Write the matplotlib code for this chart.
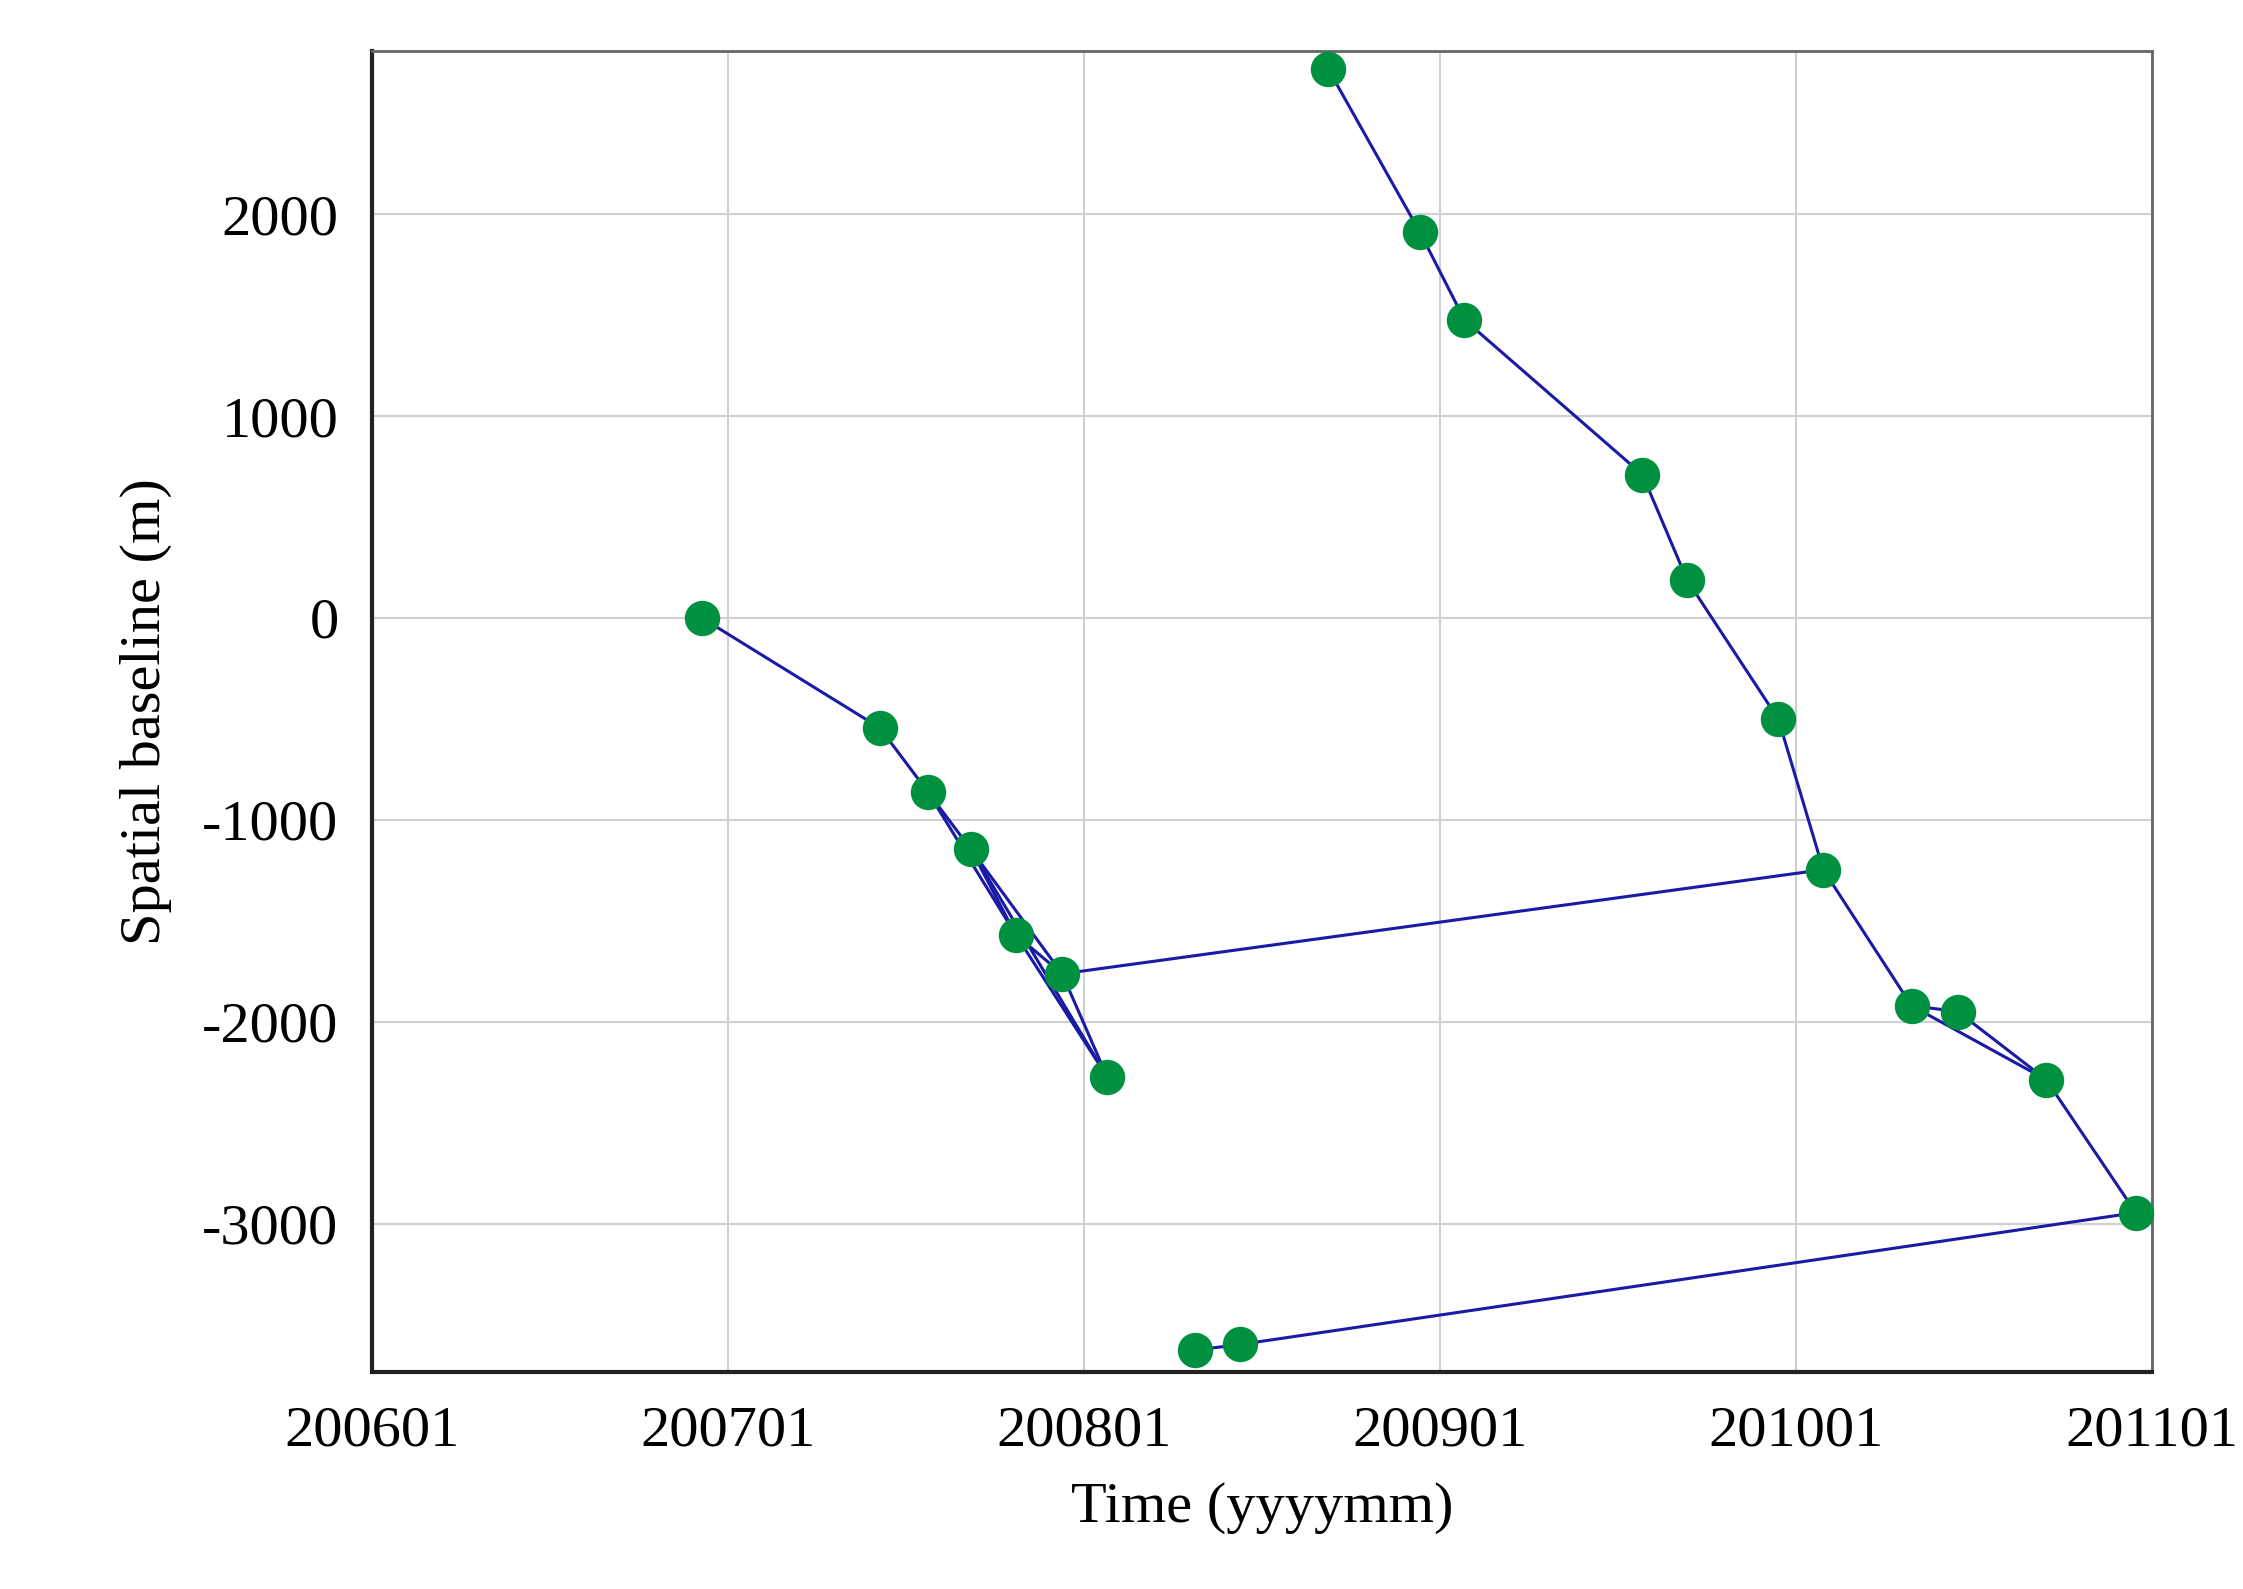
import numpy as np
import matplotlib.pyplot as plt

# acquisition time (decimal years) and spatial baseline (m)
t = [2006.927, 2007.427, 2007.561, 2007.683, 2007.809, 2007.939, 2008.065,
     2008.313, 2008.439, 2008.687, 2008.943, 2009.069, 2009.569, 2009.695,
     2009.951, 2010.077, 2010.325, 2010.455, 2010.703, 2010.955]
b = [0, -545, -860, -1147, -1570, -1763, -2272,
     -3627, -3599, 2717, 1914, 1477, 710, 186,
     -502, -1247, -1921, -1950, -2287, -2946]
# interferometric pairs (indices into t/b)
pairs = [(0, 1), (1, 2), (2, 3), (2, 4), (3, 4), (3, 5), (3, 6), (4, 5), (4, 6), (5, 6),
         (5, 15), (9, 10), (10, 11), (11, 12), (12, 13), (13, 14), (14, 15),
         (15, 16), (16, 17), (16, 18), (17, 18), (18, 19), (19, 8), (7, 8)]
xticks = [2006, 2007, 2008, 2009, 2010, 2011]
xlabels = ['200601', '200701', '200801', '200901', '201001', '201101']
yticks = [-3000, -2000, -1000, 0, 1000, 2000]

plt.rcParams['font.family'] = ['Liberation Serif', 'DejaVu Serif']
plt.rcParams['axes.unicode_minus'] = False
fig = plt.figure(figsize=(22.43, 15.89), dpi=100)
ax = fig.add_axes([257/1550, 1-948/1098, (1487-257)/1550, (948-35)/1098])

for i, j in pairs:
    ax.plot([t[i], t[j]], [b[i], b[j]], color='#1a1aa6', lw=2.2, zorder=2)
ax.scatter(t, b, s=650, color='#009140', zorder=3, linewidths=0, clip_on=False)

ax.set_xlim(2006, 2011)
ax.set_ylim(-3735, 2810)
ax.set_xticks(xticks)
ax.set_xticklabels(xlabels)
ax.set_yticks(yticks)
ax.grid(True, color='#d0d0d0', lw=1.5)
ax.tick_params(labelsize=42, length=0, pad=24)
for side, s in ax.spines.items():
    s.set_linewidth(3 if side in ('left', 'bottom') else 2)
    s.set_color('#222222' if side in ('left', 'bottom') else '#666666')
ax.set_xlabel('Time (yyyymm)', fontsize=42, labelpad=18)
ax.set_ylabel('Spatial baseline (m)', fontsize=42, labelpad=22)

fig.savefig('out.png', dpi=100)
